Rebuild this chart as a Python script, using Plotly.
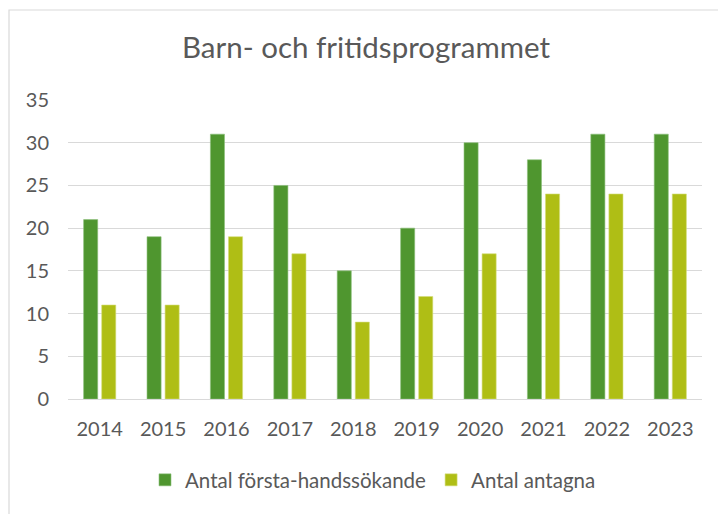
import plotly.graph_objects as go

years = ["2014", "2015", "2016", "2017", "2018", "2019", "2020", "2021", "2022", "2023"]
forsta_hand = [21, 19, 31, 25, 15, 20, 30, 28, 31, 31]
antagna = [11, 11, 19, 17, 9, 12, 17, 24, 24, 24]
series_names = ["Antal första-handssökande", "Antal antagna"]
title_text = "Barn- och fritidsprogrammet"

W, H = 726, 514
O = 8  # page body margin offset in the browser
# reference pixel geometry of the plot area
REF_L, REF_R, REF_T, REF_B = 68, 702, 100, 399
L = REF_L - O
R = W - (REF_R - O)
T = REF_T - O
B = H - (REF_B - O)
pw = W - L - R
ph = H - T - B

def px_x(p):
    return (p - O - L) / pw

def px_y(p):
    return (H - B - (p - O)) / ph

FONT = "Lato"
GRAY = "#595959"

fig = go.Figure()
fig.add_trace(go.Bar(x=years, y=forsta_hand, name=series_names[0],
                     marker=dict(color="#4F962F", line=dict(color="#8CC07A", width=0.6))))
fig.add_trace(go.Bar(x=years, y=antagna, name=series_names[1],
                     marker=dict(color="#AFBE15", line=dict(color="#D4DE7A", width=0.6))))

fig.update_layout(
    width=W, height=H,
    margin=dict(l=L, r=R, t=T, b=B),
    paper_bgcolor="white", plot_bgcolor="white",
    barmode="group", bargap=0.43, bargroupgap=0.22,
    font=dict(family=FONT, color=GRAY),
    title=dict(text=title_text, x=(366 - O) / W, xref="container", xanchor="center",
               y=1 - (48 - O) / H, yref="container", yanchor="middle",
               font=dict(size=29.5, color=GRAY, family=FONT)),
    showlegend=True,
    legend=dict(orientation="h", x=px_x(373), xanchor="center", y=px_y(480), yanchor="middle",
                font=dict(size=20.5, color=GRAY), itemwidth=30, traceorder="normal"),
    yaxis=dict(range=[0, 35], dtick=5, showgrid=True, gridcolor="#D9D9D9", gridwidth=1.2,
               zeroline=False, showline=False, tickfont=dict(size=20, color=GRAY),
               ticks="", ticklabelstandoff=18, fixedrange=True),
    xaxis=dict(showline=True, linecolor="#D9D9D9", linewidth=1.2, ticks="",
               tickfont=dict(size=20, color=GRAY), ticklabelstandoff=12),
    shapes=[dict(type="rect", xref="paper", yref="paper",
                 x0=px_x(O + 1), x1=px_x(760), y0=px_y(560), y1=px_y(10),
                 line=dict(color="#D9D9D9", width=1.2), fillcolor="rgba(0,0,0,0)", layer="below")],
)

fig.write_html("out.html")
